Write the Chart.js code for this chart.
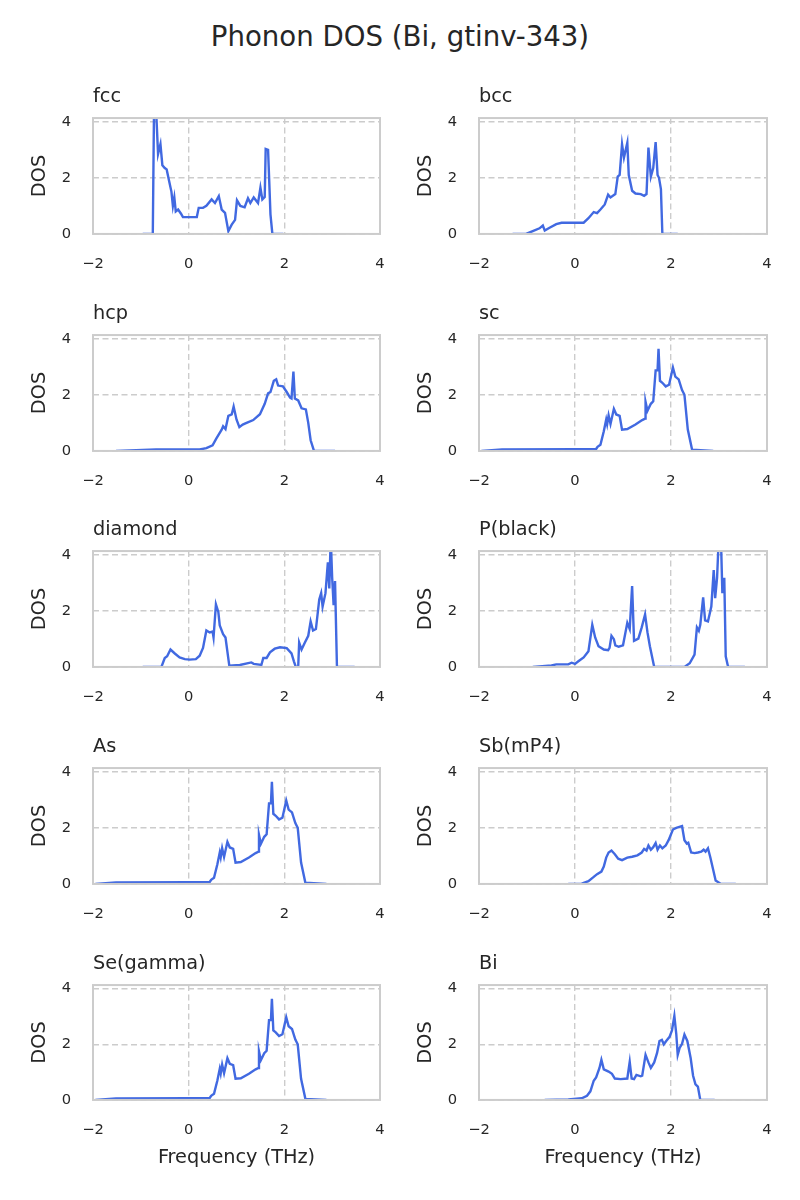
<!DOCTYPE html>
<html>
<head>
<meta charset="utf-8">
<script src="https://cdn.jsdelivr.net/npm/chart.js@4/dist/chart.umd.min.js"></script>
<style>
  html, body { margin: 0; padding: 0; background: #fff; }
  #page { position: relative; width: 800px; height: 1200px; overflow: hidden; }
  #suptitle {
    position: absolute; left: 0; top: 22.5px; width: 800px; text-align: center;
    font: 27.6px/27.6px "DejaVu Sans", sans-serif; color: #262626;
  }
  canvas { position: absolute; }
</style>
</head>
<body>
<div id="page">
  <div id="suptitle">Phonon DOS (Bi, gtinv-343)</div>
</div>
<script>
// ---- data ----
const panelNames = ['fcc', 'bcc', 'hcp', 'sc', 'diamond', 'P(black)', 'As', 'Sb(mP4)', 'Se(gamma)', 'Bi'];
const xTicks = [-2, 0, 2, 4];
const yTicks = [0, 2, 4];

const fccX = [-0.96, -0.75, -0.72, -0.68, -0.64, -0.59, -0.55, -0.5, -0.46, -0.41, -0.36, -0.33, -0.3, -0.27, -0.22, -0.16, -0.12, 0.0, 0.17, 0.21, 0.3, 0.37, 0.48, 0.55, 0.63, 0.69, 0.76, 0.83, 0.9, 0.97, 1.01, 1.08, 1.17, 1.24, 1.29, 1.36, 1.45, 1.5, 1.54, 1.59, 1.61, 1.66, 1.71, 1.75, 1.98];
const fccY = [0, 0, 5.2, 4.4, 2.85, 3.2, 2.45, 2.35, 2.3, 1.9, 1.5, 1.0, 1.3, 0.8, 0.87, 0.72, 0.6, 0.6, 0.6, 0.93, 0.93, 1.0, 1.23, 1.1, 1.35, 0.87, 0.75, 0.1, 0.33, 0.5, 1.2, 1.0, 0.95, 1.27, 1.1, 1.3, 1.1, 1.65, 1.23, 1.32, 3.03, 3.0, 0.7, 0, 0];

const bccX = [-1.3, -1.02, -0.88, -0.74, -0.67, -0.63, -0.53, -0.39, -0.28, 0.18, 0.28, 0.39, 0.46, 0.53, 0.62, 0.69, 0.74, 0.84, 0.89, 0.93, 0.98, 1.02, 1.09, 1.12, 1.19, 1.26, 1.37, 1.44, 1.49, 1.53, 1.58, 1.63, 1.68, 1.72, 1.75, 1.79, 1.82, 2.14];
const bccY = [0, 0, 0.1, 0.2, 0.3, 0.12, 0.22, 0.35, 0.4, 0.4, 0.56, 0.78, 0.74, 0.87, 1.05, 1.4, 1.3, 1.42, 2.04, 2.1, 3.2, 2.72, 3.25, 2.1, 1.54, 1.44, 1.42, 1.36, 1.42, 3.08, 2.04, 2.35, 3.27, 2.1, 2.0, 1.6, 0, 0];

const hcpX = [-1.52, -0.68, 0.23, 0.37, 0.5, 0.58, 0.69, 0.72, 0.77, 0.83, 0.9, 0.94, 1.0, 1.06, 1.13, 1.21, 1.35, 1.49, 1.59, 1.66, 1.71, 1.78, 1.83, 1.87, 1.97, 2.05, 2.12, 2.15, 2.19, 2.22, 2.29, 2.36, 2.45, 2.5, 2.55, 2.62, 3.06];
const hcpY = [0, 0.05, 0.05, 0.1, 0.2, 0.45, 0.76, 0.88, 0.78, 1.25, 1.3, 1.58, 1.12, 0.85, 0.94, 1.0, 1.1, 1.31, 1.68, 2.05, 2.1, 2.5, 2.55, 2.33, 2.3, 2.1, 1.9, 1.87, 2.83, 1.87, 1.8, 1.52, 1.48, 1.0, 0.38, 0, 0];

// sc, As and Se(gamma) show the same curve in the reference
const scX = [-1.95, -1.52, 0, 0.44, 0.47, 0.53, 0.6, 0.65, 0.67, 0.7, 0.74, 0.81, 0.86, 0.93, 0.98, 1.09, 1.26, 1.4, 1.46, 1.47, 1.51, 1.58, 1.63, 1.68, 1.72, 1.74, 1.77, 1.82, 1.89, 1.96, 2.04, 2.09, 2.16, 2.23, 2.28, 2.35, 2.44, 2.88];
const scY = [0, 0.05, 0.06, 0.07, 0.15, 0.22, 0.7, 1.12, 0.95, 1.27, 0.96, 1.5, 1.3, 1.25, 0.76, 0.78, 0.94, 1.1, 1.15, 1.75, 1.43, 1.68, 1.77, 2.87, 2.87, 3.64, 2.5, 2.43, 2.3, 2.36, 2.97, 2.65, 2.55, 2.17, 2.0, 0.76, 0.04, 0];

const diamondX = [-0.96, -0.57, -0.5, -0.45, -0.38, -0.29, -0.19, -0.08, 0.02, 0.15, 0.23, 0.3, 0.37, 0.44, 0.5, 0.52, 0.57, 0.62, 0.65, 0.72, 0.77, 0.85, 1.07, 1.31, 1.36, 1.52, 1.56, 1.63, 1.7, 1.8, 1.91, 2.05, 2.15, 2.2, 2.24, 2.29, 2.31, 2.36, 2.43, 2.5, 2.55, 2.6, 2.66, 2.73, 2.77, 2.8, 2.86, 2.91, 2.94, 2.97, 3.0, 3.03, 3.06, 3.1, 3.47];
const diamondY = [0, 0, 0.32, 0.38, 0.62, 0.48, 0.34, 0.28, 0.26, 0.28, 0.4, 0.68, 1.3, 1.23, 1.26, 1.05, 2.23, 1.96, 1.48, 1.17, 1.05, 0.04, 0.07, 0.16, 0.11, 0.07, 0.32, 0.32, 0.52, 0.65, 0.7, 0.67, 0.48, 0.2, 0, 0, 0.87, 0.62, 0.87, 1.11, 1.62, 1.3, 1.35, 2.4, 2.63, 2.15, 2.63, 3.73, 2.8, 4.6, 3.18, 2.2, 3.06, 0, 0];

const pBlackX = [-0.88, -0.49, -0.39, -0.14, -0.07, 0, 0.07, 0.18, 0.28, 0.36, 0.42, 0.49, 0.6, 0.69, 0.72, 0.76, 0.81, 0.84, 0.91, 1.0, 1.09, 1.14, 1.19, 1.23, 1.32, 1.39, 1.46, 1.51, 1.56, 1.65, 2.28, 2.39, 2.49, 2.54, 2.58, 2.61, 2.67, 2.71, 2.77, 2.84, 2.89, 2.92, 2.96, 3.0, 3.04, 3.07, 3.11, 3.14, 3.19, 3.54];
const pBlackY = [0, 0.05, 0.09, 0.09, 0.15, 0.11, 0.2, 0.34, 0.56, 1.5, 1.05, 0.74, 0.62, 0.6, 0.68, 1.11, 0.99, 0.77, 0.72, 0.77, 1.57, 1.35, 2.88, 0.93, 1.01, 1.41, 1.87, 1.23, 0.74, 0, 0, 0.13, 0.44, 1.41, 1.29, 1.5, 2.48, 1.66, 1.62, 2.15, 3.45, 2.45, 3.18, 4.8, 4.6, 2.63, 3.18, 0.38, 0, 0];

const sbX = [-0.14, 0.14, 0.28, 0.39, 0.46, 0.55, 0.6, 0.65, 0.7, 0.76, 0.83, 0.9, 0.98, 1.09, 1.19, 1.3, 1.39, 1.44, 1.49, 1.53, 1.58, 1.63, 1.68, 1.72, 1.77, 1.82, 1.89, 1.95, 2.04, 2.11, 2.19, 2.23, 2.28, 2.33, 2.36, 2.42, 2.49, 2.56, 2.63, 2.68, 2.72, 2.77, 2.82, 2.88, 2.93, 3.04, 3.35];
const sbY = [0, 0.01, 0.1, 0.25, 0.35, 0.44, 0.62, 0.94, 1.12, 1.19, 1.06, 0.9, 0.85, 0.94, 0.97, 1.02, 1.12, 1.25, 1.19, 1.37, 1.22, 1.31, 1.46, 1.22, 1.37, 1.27, 1.37, 1.56, 1.94, 2.0, 2.04, 2.06, 1.56, 1.44, 1.47, 1.12, 1.1, 1.12, 1.15, 1.22, 1.15, 1.27, 0.94, 0.5, 0.12, 0, 0];

const biX = [-0.63, -0.14, 0.14, 0.25, 0.32, 0.39, 0.44, 0.51, 0.55, 0.6, 0.7, 0.77, 0.83, 0.95, 1.09, 1.14, 1.18, 1.23, 1.28, 1.37, 1.4, 1.47, 1.53, 1.58, 1.65, 1.71, 1.76, 1.81, 1.85, 1.9, 1.97, 2.02, 2.07, 2.11, 2.14, 2.18, 2.23, 2.28, 2.34, 2.41, 2.46, 2.51, 2.56, 2.61, 2.91];
const biY = [0, 0.02, 0.06, 0.15, 0.31, 0.69, 0.81, 1.15, 1.44, 1.1, 1.02, 0.94, 0.77, 0.75, 0.77, 1.37, 0.77, 0.75, 0.9, 0.85, 0.87, 1.62, 1.35, 1.15, 1.35, 1.69, 2.12, 2.16, 2.0, 2.12, 2.27, 2.5, 3.02, 2.37, 1.62, 1.87, 2.02, 2.35, 2.12, 1.5, 0.87, 0.56, 0.48, 0, 0];

const panelX = [fccX, bccX, hcpX, scX, diamondX, pBlackX, scX, sbX, scX, biX];
const panelY = [fccY, bccY, hcpY, scY, diamondY, pBlackY, scY, sbY, scY, biY];

const xMin = -2, xMax = 4;
const yMin = 0, yMax = 4.13;

// ---- look ----
const colors = {
    line: '#4169e1',
    spine: '#cccccc',
    grid: '#cccccc',
    text: '#262626',
};
const FONT = '"DejaVu Sans", sans-serif';

// ---- layout (pixels) ----
const axLeft = [93, 479];
const axWidth = [287, 288];
const axTop0 = 118;
const rowStep = 216.7;
const axHeight = 114;
const yAxisW = 80;
const padRight = 16;
const padTop = 4;
const labelSize = 19.3;
const tickSize = 14.7;
const titleGap = 9.9;
const headH = padTop + labelSize * 1.2 + titleGap;

Chart.defaults.font.family = FONT;
Chart.defaults.color = colors.text;

const framePlugin = {
    id: 'frame',
    afterDatasetsDraw(chart) {
        const { ctx, chartArea: a } = chart;
        ctx.save();
        ctx.strokeStyle = colors.spine;
        ctx.lineWidth = 2;
        ctx.strokeRect(a.left, a.top, a.right - a.left, a.bottom - a.top);
        ctx.restore();
    },
};

function minus(v) {
    return v < 0 ? '\u2212' + Math.abs(v) : String(v);
}

function buildConfig(i, bottomRow, xAxisH) {
    const points = panelX[i].map((x, k) => ({ x, y: panelY[i][k] }));
    return {
        type: 'line',
        data: {
            datasets: [{
                data: points,
                borderColor: colors.line,
                borderWidth: 2.4,
                pointRadius: 0,
                tension: 0,
                fill: false,
            }],
        },
        options: {
            responsive: false,
            animation: false,
            devicePixelRatio: 1,
            layout: { padding: { left: 0, right: padRight, top: padTop, bottom: 0 } },
            plugins: {
                legend: { display: false },
                tooltip: { enabled: false },
                title: {
                    display: true,
                    text: panelNames[i],
                    align: 'start',
                    fullSize: false,
                    color: colors.text,
                    font: { size: labelSize, weight: 'normal', family: FONT },
                    padding: { top: 0, bottom: titleGap },
                },
            },
            scales: {
                x: {
                    type: 'linear',
                    min: xMin,
                    max: xMax,
                    afterBuildTicks: (s) => { s.ticks = xTicks.map((v) => ({ value: v })); },
                    afterFit: (s) => { s.height = xAxisH; s.paddingLeft = 0; s.paddingRight = 0; },
                    grid: { color: colors.grid, lineWidth: 1.4, drawTicks: false },
                    border: { display: false, dash: [6, 3.5] },
                    ticks: { padding: 21.5, maxRotation: 0, autoSkip: false, color: colors.text, font: { size: tickSize }, callback: minus },
                    title: {
                        display: bottomRow,
                        text: 'Frequency (THz)',
                        color: colors.text,
                        font: { size: labelSize },
                        padding: { top: 0, bottom: 0 },
                    },
                },
                y: {
                    min: yMin,
                    max: yMax,
                    afterBuildTicks: (s) => { s.ticks = yTicks.map((v) => ({ value: v })); },
                    afterFit: (s) => { s.width = yAxisW; s.paddingTop = 0; s.paddingBottom = 0; },
                    grid: { color: colors.grid, lineWidth: 1.4, drawTicks: false },
                    border: { display: false, dash: [6, 3.5] },
                    ticks: { padding: 22, color: colors.text, font: { size: tickSize } },
                    title: {
                        display: true,
                        text: 'DOS',
                        color: colors.text,
                        font: { size: labelSize },
                        padding: { top: 15.4, bottom: 0 },
                    },
                },
            },
        },
        plugins: [framePlugin],
    };
}

const page = document.getElementById('page');
panelNames.forEach((name, i) => {
    const row = Math.floor(i / 2);
    const col = i % 2;
    const bottomRow = row === 4;
    const xAxisH = bottomRow ? 70.5 : 40;
    const top = axTop0 + rowStep * row;
    const canvas = document.createElement('canvas');
    const w = yAxisW + axWidth[col] + padRight;
    const h = Math.ceil(headH + axHeight + xAxisH);
    canvas.width = w;
    canvas.height = h;
    canvas.style.width = w + 'px';
    canvas.style.height = h + 'px';
    canvas.style.left = (axLeft[col] - yAxisW) + 'px';
    canvas.style.top = (top - headH) + 'px';
    page.appendChild(canvas);
    new Chart(canvas, buildConfig(i, bottomRow, xAxisH - (h - (headH + axHeight + xAxisH))));
});
</script>
</body>
</html>
